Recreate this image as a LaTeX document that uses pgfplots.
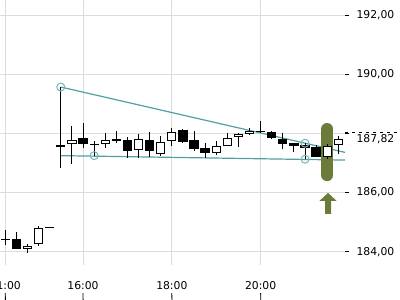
\documentclass[border=0pt]{standalone}
\usepackage{pgfplots}
\pgfplotsset{compat=1.18}
\usepackage{pgfplotstable}
\usepackage{fontspec}
\setmainfont{DejaVu Sans}
\definecolor{tl}{RGB}{80,160,165}
\definecolor{tlc}{RGB}{120,182,188}
\definecolor{olv}{RGB}{107,124,58}
\definecolor{grd}{RGB}{220,220,220}

\pgfplotstableread{
k o h l c
-7 184.42 184.73 184.23 184.42
-6 184.44 184.68 184.08 184.08
-5 184.09 184.25 183.97 184.20
-4 184.26 184.87 184.20 184.79
-3 184.83 184.83 184.83 184.83
-2 187.60 189.57 186.84 187.54
-1 187.64 188.25 186.97 187.78
0 187.83 188.35 187.50 187.64
1 187.64 187.74 187.25 187.64
2 187.64 188.01 187.52 187.78
3 187.81 188.08 187.68 187.74
4 187.78 187.89 187.18 187.42
5 187.44 187.97 187.18 187.80
6 187.78 188.05 187.21 187.41
7 187.30 187.91 187.24 187.72
8 187.75 188.20 187.57 188.06
9 188.11 188.15 187.67 187.72
10 187.78 188.08 187.41 187.49
11 187.50 187.69 187.16 187.35
12 187.33 187.74 187.27 187.57
13 187.57 188.00 187.57 187.85
14 187.89 188.01 187.53 187.97
15 187.98 188.20 187.96 188.07
16 188.08 188.42 188.00 188.08
17 188.05 188.09 187.81 187.83
18 187.81 188.00 187.46 187.63
19 187.67 187.67 187.38 187.56
20 187.61 187.67 187.13 187.50
21 187.54 187.61 187.20 187.20
22 187.19 187.64 187.13 187.57
23 187.61 187.90 187.30 187.82
}\candles

\begin{document}
\begin{tikzpicture}
\begin{axis}[
  scale only axis, width=345pt, height=265pt,
  xmin=-7.477, xmax=23.6, ymin=183.55, ymax=192.51,
  axis x line*=bottom, axis y line*=right,
  axis line style={draw=none},
  xtick={-7,0,8,16}, xticklabels={11:00,16:00,18:00,20:00},
  xtick style={draw=none},
  ytick={184,186,188,190,192},
  yticklabels={{184,00},{186,00},{},{190,00},{192,00}},
  extra y ticks={187.82}, extra y tick labels={187{,}82},
  extra y tick style={grid=none, major tick style={draw=none}},
  tick align=outside, major tick length=4pt,
  ytick style={black, line width=0.8pt},
  grid=major, major grid style={grd, line width=1pt},
  ticklabel style={font=\fontsize{10.8}{13}\selectfont},
  xticklabel style={yshift=-9pt},
  yticklabel style={xshift=4pt},
  clip=false,
]
% trend lines
\addplot[tl, line width=1.2pt, forget plot] coordinates {(-2,189.57) (23.6,187.36)};
\addplot[tl, line width=1.2pt, forget plot] coordinates {(-2,187.25) (23.6,187.10)};
% highlight
\addplot[olv, line width=12pt, line cap=round, forget plot] coordinates {(22,188.15) (22,186.59)};
% wicks
\addplot[draw=none, mark=none, forget plot,
  error bars/.cd, y dir=plus, y explicit, error mark=none,
  error bar style={draw=black, line width=1pt}]
  table[x=k, y=l, y error plus expr=\thisrow{h}-\thisrow{l}] {\candles};
% bear bodies
\addplot[draw=none, mark=none, forget plot,
  restrict expr to domain={\thisrow{o}-\thisrow{c}}{0.001:100},
  error bars/.cd, y dir=plus, y explicit, error mark=none,
  error bar style={draw=black, line width=9.3pt, line cap=butt}]
  table[x=k, y=c, y error plus expr=\thisrow{o}-\thisrow{c}] {\candles};
% bull bodies outer
\addplot[draw=none, mark=none, forget plot,
  restrict expr to domain={\thisrow{c}-\thisrow{o}}{0.001:100},
  error bars/.cd, y dir=plus, y explicit, error mark=none,
  error bar style={draw=black, line width=9.3pt, line cap=butt}]
  table[x=k, y=o, y error plus expr=\thisrow{c}-\thisrow{o}] {\candles};
% bull bodies inner
\addplot[draw=none, mark=none, forget plot,
  restrict expr to domain={\thisrow{c}-\thisrow{o}}{0.001:100},
  error bars/.cd, y dir=plus, y explicit, error mark=none,
  error bar style={draw=white, line width=7.3pt, line cap=butt}]
  table[x=k, y expr=\thisrow{o}+0.034, y error plus expr=\thisrow{c}-\thisrow{o}-0.068] {\candles};
% doji
\addplot[draw=none, mark=none, forget plot,
  restrict expr to domain={abs(\thisrow{c}-\thisrow{o})}{-1:0.001},
  error bars/.cd, y dir=plus, y explicit, error mark=none,
  error bar style={draw=black, line width=9pt, line cap=butt}]
  table[x=k, y expr=\thisrow{o}-0.017, y error plus expr=0.034] {\candles};
% circles
\addplot[only marks, mark=o, mark size=4pt, mark options={tlc, line width=1pt}, forget plot]
  coordinates {(-2,189.57) (1,187.25) (20,187.67) (20,187.13)};
% arrow
\addplot[fill=olv, draw=none, forget plot] coordinates {(22.07,185.99) (22.84,185.72) (22.34,185.72) (22.34,185.28) (21.80,185.28) (21.80,185.72) (21.30,185.72)} --cycle;
\pgfplotsinvokeforeach{-7,0,8,16}{\draw[black, line width=0.8pt] ([yshift=-28pt]axis cs:#1,183.55) -- ++(0,-5pt);}
\draw[black, line width=0.8pt, dash pattern=on 3pt off 4pt] (axis cs:23.6,188.05) -- (axis cs:28.6,188.05);
\end{axis}
\pgfresetboundingbox
\path (0,-35pt) rectangle (400pt,265pt);
\end{tikzpicture}
\end{document}
